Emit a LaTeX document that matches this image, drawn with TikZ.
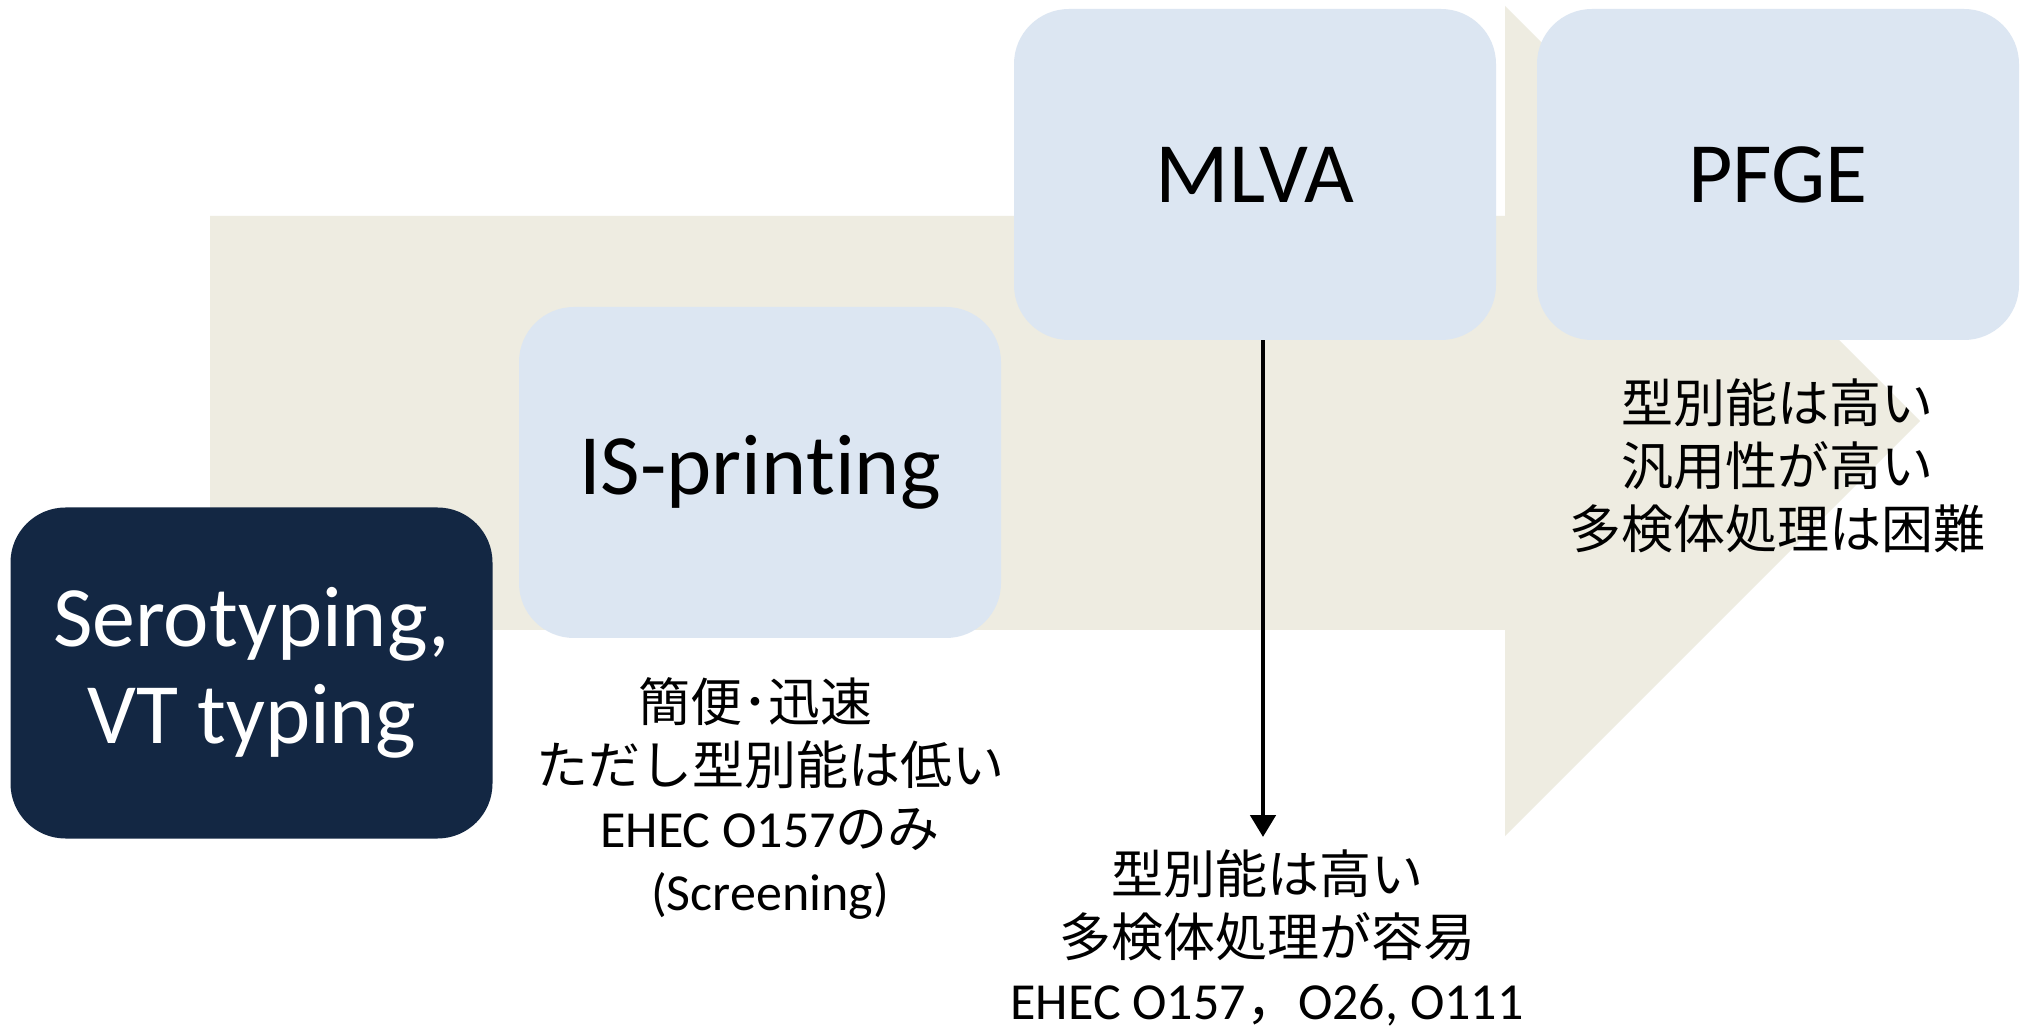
\documentclass[tikz,border=0pt]{standalone}
\usepackage{fontspec}
\setmainfont{Carlito}[Ligatures=NoCommon, RawFeature={-liga;-clig;-calt;-dlig}]
\newfontfamily\cjk{Noto Sans CJK JP}
\usetikzlibrary{arrows.meta}
\definecolor{beige}{RGB}{238,236,225}
\definecolor{lightblue}{RGB}{220,230,242}
\definecolor{navy}{RGB}{19,39,67}
\begin{document}
\begin{tikzpicture}[x=0.5pt,y=-0.5pt,
  box/.style={rounded corners=27.5pt, minimum width=241pt, minimum height=165.5pt, inner sep=0pt, font=\fontsize{43}{48.5}\selectfont, align=center},
  lightbox/.style={box, fill=lightblue, text=black},
  darkbox/.style={box, fill=navy, text=white},
  note/.style={font=\fontsize{26}{31.5}\selectfont, align=center, inner sep=0pt, text=black},
  flow/.style={-{Triangle[length=11pt,width=12.5pt]}, line width=2.4pt}]
\useasboundingbox (0,0) rectangle (2025,1031);
\fill[white] (0,0) rectangle (2025,1031);
% big background arrow
\fill[beige] (210,216) -- (1505,216) -- (1505,6) -- (1920,421) -- (1505,836) -- (1505,630) -- (210,630) -- cycle;
% boxes
\node[darkbox] (sero) at (251.5,673) {Serotyping,\\VT typing};
\node[lightbox] (isp) at (760,472.5) {IS-prin\kern0pt ting};
\node[lightbox] (mlva) at (1255,174.5) {MLVA};
\node[lightbox] (pfge) at (1778,174.5) {PFGE};
% notes
\node[note] (isnote) at (770,798) {{\cjk 簡便･迅速}\hspace*{15pt}\\{\cjk ただし型別能は低い}\\EHEC O157{\cjk のみ}\\(Screening)};
\node[note] (mlvanote) at (1267,938) {{\cjk 型別能は高い}\\{\cjk 多検体処理が容易}\\EHEC O157{\cjk ，}O26, O111};
\node[note] (pfgenote) at (1777,466) {{\cjk 型別能は高い}\\{\cjk 汎用性が高い}\\{\cjk 多検体処理は困難}};
% connector
\coordinate (mlvaend) at (1263,837);
\draw[flow] ([xshift=4pt]mlva.south) -- (mlvaend);
\end{tikzpicture}
\end{document}
